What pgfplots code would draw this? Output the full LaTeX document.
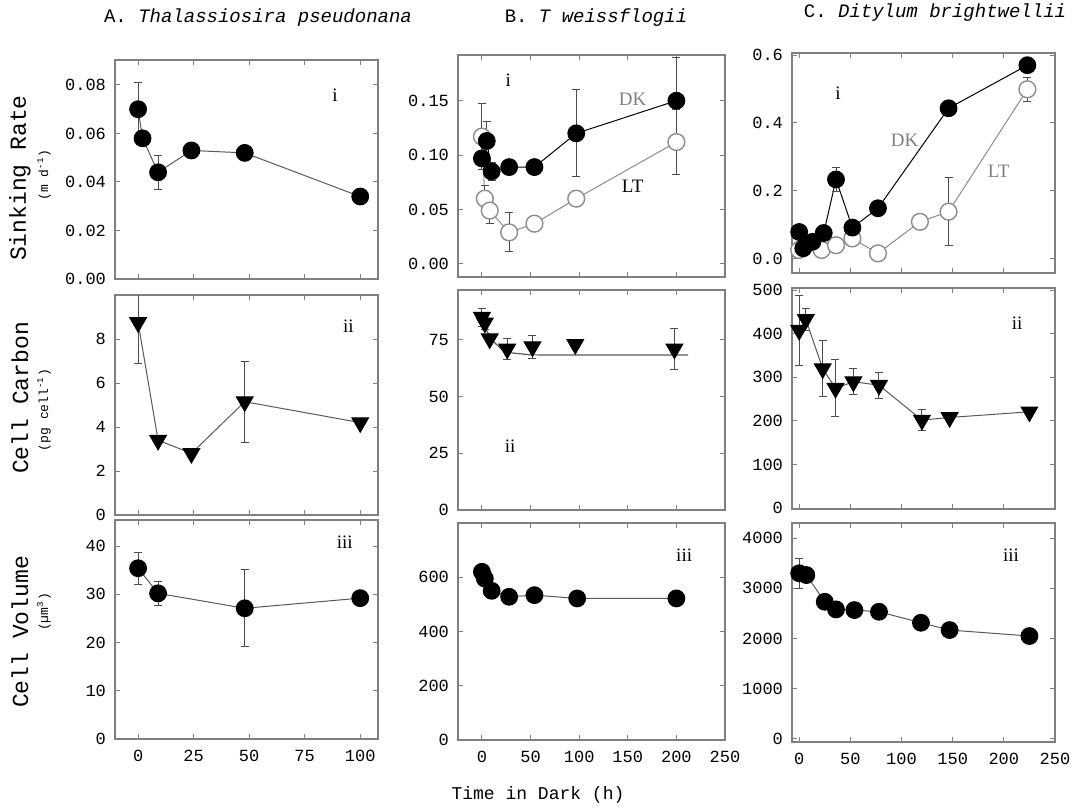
\documentclass[border=0pt]{standalone}
\usepackage{fontspec}
\setmainfont{Liberation Mono}
\newfontfamily\rmlab{Liberation Serif}
\usepackage{pgfplots}
\pgfplotsset{compat=1.18}
\definecolor{axgray}{gray}{0.5}
\definecolor{lgray}{gray}{0.55}
\definecolor{dgray}{gray}{0.3}
\definecolor{lngray}{gray}{0.35}
\tikzset{lab/.style={font=\rmlab\fontsize{9.5}{10}\selectfont}}
\pgfplotsset{
 panel/.style={scale only axis, clip=true,
   axis line style={axgray, line width=0.6pt},
   every tick/.style={axgray, line width=0.5pt},
   tick align=inside, major tick length=2.5pt,
   tick label style={font=\fontsize{8.5}{9}\selectfont, black},
   /pgf/number format/assume math mode=true,
   /pgf/number format/1000 sep={},
   scaled ticks=false,
   yticklabel style={xshift=-1pt},
   xticklabel style={yshift=-2pt},
 },
 noxl/.style={xticklabels=\empty},
 colA/.style={panel, xmin=-10.4, xmax=108, xtick={0,25,50,75,100}, width=131.5pt},
 colB/.style={panel, xmin=-24.6, xmax=250, xtick={0,50,100,150,200,250}, width=133.5pt},
 colC/.style={panel, xmin=-7, xmax=250, xtick={0,50,100,150,200,250}, width=131.5pt},
 eb/.style={error bars/.cd, y dir=both, y explicit,
   error bar style={dgray, line width=0.5pt},
   error mark options={dgray, line width=0.5pt, mark size=2pt, rotate=90}},
 dk/.style={black, line width=0.5pt, mark=*, mark size=4.2pt, mark options={fill=black, draw=black}},
 lt/.style={lgray, line width=0.5pt, mark=*, mark size=4.2pt, mark options={fill=white, draw=lgray, line width=0.7pt}},
 fc/.style={lngray, line width=0.5pt, mark=*, mark size=4.2pt, mark options={fill=black, draw=black}},
 tri/.style={lngray, line width=0.5pt, mark=triangle*, mark size=4.8pt, mark options={rotate=180, fill=black, draw=black}},
}
\begin{document}
\begin{tikzpicture}
\useasboundingbox (0,0) rectangle (538.5pt,-404.5pt);
% ---------- Column A ----------
\begin{axis}[colA, noxl, at={(57.5pt,-30pt)}, anchor=north west, height=109.5pt,
  ymin=0, ymax=0.0903, ytick={0,0.02,0.04,0.06,0.08},
  yticklabel style={/pgf/number format/.cd, fixed, fixed zerofill, precision=2}]
\addplot+[fc, eb] coordinates {(0,0.070) +- (0,0.011) (2,0.058) +- (0,0) (9,0.044) +- (0,0.007) (24,0.053) +- (0,0) (48,0.052) +- (0,0) (100,0.034) +- (0,0)};
\node[lab] at (axis cs:88.7,0.0759) {i};
\end{axis}
\begin{axis}[colA, noxl, at={(57.5pt,-147.5pt)}, anchor=north west, height=110pt,
  ymin=0, ymax=10, ytick={0,2,4,6,8}]
\addplot+[tri, eb] coordinates {(0,8.75) +- (0,1.85) (9,3.4) +- (0,0) (24,2.8) +- (0,0) (48,5.15) +- (0,1.85) (100,4.2) +- (0,0)};
\node[lab] at (axis cs:94.7,8.56) {ii};
\end{axis}
\begin{axis}[colA, at={(57.5pt,-260pt)}, anchor=north west, height=109.5pt,
  ymin=0, ymax=45.4, ytick={0,10,20,30,40}]
\addplot+[fc, eb] coordinates {(0,35.4) +- (0,3.3) (9,30.2) +- (0,2.5) (48,27.1) +- (0,8) (100,29.2) +- (0,0)};
\node[lab] at (axis cs:93,40.9) {iii};
\end{axis}
% ---------- Column B ----------
\begin{axis}[colB, noxl, at={(229pt,-27.5pt)}, anchor=north west, height=111pt,
  ymin=-0.012, ymax=0.192, ytick={0,0.05,0.10,0.15},
  yticklabel style={/pgf/number format/.cd, fixed, fixed zerofill, precision=2}]
\addplot+[lt, eb] coordinates {(0,0.117) +- (0,0.03) (3,0.060) +- (0,0.012) (8,0.049) +- (0,0.012) (28,0.029) +- (0,0.018) (54,0.037) +- (0,0) (97,0.060) +- (0,0) (200,0.112) +- (0,0.03)};
\addplot+[dk, eb] coordinates {(0,0.097) +- (0,0) (5,0.113) +- (0,0.018) (10,0.085) +- (0,0.008) (28,0.089) +- (0,0) (54,0.089) +- (0,0) (97,0.120) +- (0,0.04) (200,0.150) +- (0,0.04)};
\node[lab] at (axis cs:27,0.169) {i};
\node[lab, text=gray] at (axis cs:155,0.151) {DK};
\node[lab] at (axis cs:155,0.071) {LT};
\end{axis}
\begin{axis}[colB, noxl, at={(229pt,-145pt)}, anchor=north west, height=110pt,
  ymin=0, ymax=97, ytick={0,25,50,75}]
\addplot[lngray, line width=0.6pt] coordinates {(0,85) (5,79) (10,75) (20,71) (30,69.3) (50,68.4) (100,68.3) (212,68.3)};
\addplot+[tri, only marks, eb] coordinates {(0,85) +- (0,4) (3,82.5) +- (0,3) (8,75.5) +- (0,0) (26,71) +- (0,4.5) (52,72) +- (0,5) (96,73) +- (0,0) (198,71) +- (0,9)};
\node[lab] at (axis cs:29,28) {ii};
\end{axis}
\begin{axis}[colB, at={(229pt,-261.5pt)}, anchor=north west, height=108.5pt,
  ymin=0, ymax=800, ytick={0,200,400,600}]
\addplot+[fc] coordinates {(0,620) (3,595) (10,550) (28,528) (54,534) (98,522) (200,522)};
\node[lab] at (axis cs:208,681) {iii};
\end{axis}
% ---------- Column C ----------
\begin{axis}[colC, noxl, at={(396pt,-26.5pt)}, anchor=north west, height=110pt,
  ymin=-0.043, ymax=0.606, ytick={0,0.2,0.4,0.6},
  yticklabel style={/pgf/number format/.cd, fixed, fixed zerofill, precision=1}]
\addplot+[lt, eb] coordinates {(0,0.025) +- (0,0) (22,0.025) +- (0,0) (36,0.039) +- (0,0) (52,0.059) +- (0,0) (77,0.015) +- (0,0) (118,0.108) +- (0,0) (146,0.138) +- (0,0.1) (223,0.499) +- (0,0.035)};
\addplot+[dk, eb] coordinates {(0,0.078) +- (0,0) (4,0.030) +- (0,0) (13,0.049) +- (0,0) (24,0.075) +- (0,0) (36,0.233) +- (0,0.035) (52,0.091) +- (0,0) (77,0.148) +- (0,0) (146,0.443) +- (0,0) (223,0.570) +- (0,0)};
\node[lab] at (axis cs:38,0.487) {i};
\node[lab, text=gray] at (axis cs:103,0.349) {DK};
\node[lab, text=gray] at (axis cs:195,0.256) {LT};
\end{axis}
\begin{axis}[colC, noxl, at={(396pt,-144pt)}, anchor=north west, height=110.5pt,
  ymin=-2, ymax=505, ytick={0,100,200,300,400,500}]
\addplot+[tri, eb] coordinates {(0,408) +- (0,80) (6.5,433) +- (0,25) (23,320) +- (0,64) (35.5,275) +- (0,65) (53,290) +- (0,30) (78,282) +- (0,30) (120,202) +- (0,25) (147,208) +- (0,0) (225,221) +- (0,0)};
\node[lab] at (axis cs:213,424) {ii};
\end{axis}
\begin{axis}[colC, at={(396pt,-261.5pt)}, anchor=north west, height=109.5pt,
  ymin=-60, ymax=4300, ytick={0,1000,2000,3000,4000}]
\addplot+[fc, eb] coordinates {(0,3300) +- (0,300) (7,3264) +- (0,0) (25,2732) +- (0,0) (36,2580) +- (0,0) (54,2567) +- (0,0) (78,2533) +- (0,0) (119,2314) +- (0,0) (147,2169) +- (0,0) (225,2050) +- (0,0)};
\node[lab] at (axis cs:207,3660) {iii};
\end{axis}
% ---------- Titles and labels ----------
\node[font=\fontsize{9.5}{10}\selectfont] at (129pt,-9pt) {A. \textit{Thalassiosira pseudonana}};
\node[font=\fontsize{9.5}{10}\selectfont] at (298pt,-9pt) {B. \textit{T weissflogii}};
\node[font=\fontsize{9.5}{10}\selectfont] at (467.5pt,-6.5pt) {C. \textit{Ditylum brightwellii}};
\node[rotate=90, font=\fontsize{11.5}{12}\selectfont] at (10pt,-89pt) {Sinking Rate};
\node[rotate=90, font=\fontsize{6.5}{7}\selectfont] at (22pt,-87.5pt) {(m d\textsuperscript{-1})};
\node[rotate=90, font=\fontsize{11.5}{12}\selectfont] at (10pt,-199pt) {Cell Carbon};
\node[rotate=90, font=\fontsize{6.5}{7}\selectfont] at (22pt,-205pt) {(pg cell\textsuperscript{-1})};
\node[rotate=90, font=\fontsize{11.5}{12}\selectfont] at (10pt,-316pt) {Cell Volume};
\node[rotate=90, font=\fontsize{6.5}{7}\selectfont] at (22pt,-306pt) {(µm\textsuperscript{3})};
\node[font=\fontsize{9}{10}\selectfont] at (269pt,-397.5pt) {Time in Dark (h)};
\end{tikzpicture}
\end{document}
